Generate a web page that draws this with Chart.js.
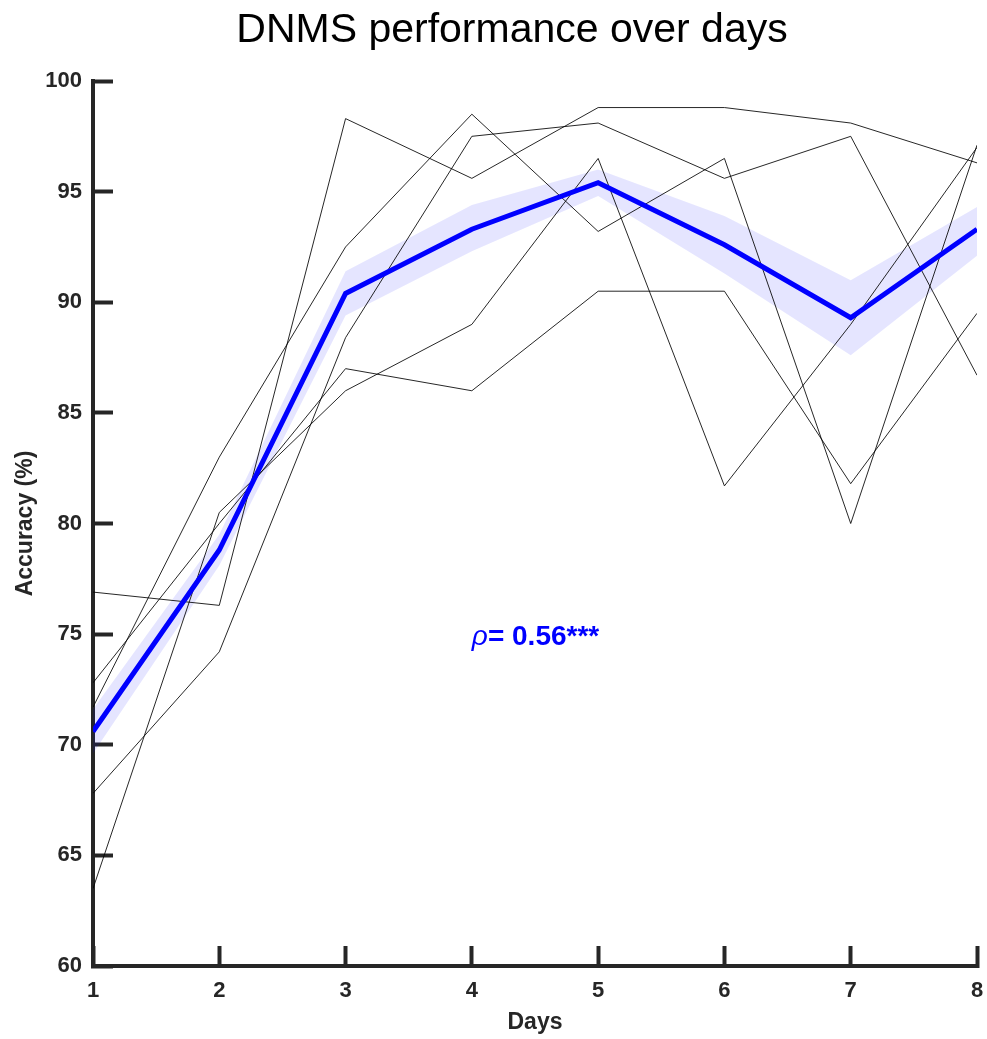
<!DOCTYPE html>
<html>
<head>
<meta charset="utf-8">
<title>DNMS performance over days</title>
<script src="https://cdn.jsdelivr.net/npm/chart.js@4.4.1/dist/chart.umd.min.js"></script>
<style>
    html, body { margin: 0; padding: 0; background: #fff; }
    #wrap { width: 987px; height: 1039px; }
</style>
</head>
<body>
<div id="wrap"><canvas id="dnmsChart" width="987" height="1039"></canvas></div>
<script>
// Values (accuracy in %)
const days = [1, 2, 3, 4, 5, 6, 7, 8];
const subject1 = [76.9, 76.3, 98.3, 95.6, 98.8, 98.8, 98.1, 96.3];
const subject2 = [71.7, 83.0, 92.5, 98.5, 93.2, 96.5, 80.0, 97.1];
const subject3 = [72.8, 80.0, 87.0, 86.0, 90.5, 90.5, 81.8, 89.5];
const subject4 = [63.5, 80.5, 86.0, 89.0, 96.5, 81.7, 89.0, 97.0];
const subject5 = [67.8, 74.2, 88.4, 97.5, 98.1, 95.6, 97.5, 86.7];
const meanAccuracy = [70.6, 78.8, 90.4, 93.3, 95.4, 92.6, 89.3, 93.3];
const bandUpper = [71.6, 79.5, 91.4, 94.4, 96.0, 93.9, 91.0, 94.3];
const bandLower = [69.6, 78.1, 89.4, 92.3, 94.8, 91.3, 87.6, 92.1];
const yTicks = [60, 65, 70, 75, 80, 85, 90, 95, 100];

const titleText = 'DNMS performance over days';
const corrLabel = '= 0.56***';

const axisColor = '#262626';
const fontFamily = '"Liberation Sans", Arial, Helvetica, sans-serif';

const toPoints = (arr) => days.map((d, i) => ({ x: d, y: arr[i] }));

const subjects = [subject1, subject2, subject3, subject4, subject5];

// Title and correlation text
const overlayText = {
    id: 'overlayText',
    afterDraw(chart) {
        const { ctx, scales: { x, y } } = chart;
        ctx.save();
        ctx.fillStyle = '#000';
        ctx.font = '41px ' + fontFamily;
        ctx.textAlign = 'center';
        ctx.textBaseline = 'alphabetic';
        ctx.fillText(titleText, 512, 42);

        const px = x.getPixelForValue(4.0);
        const py = y.getPixelForValue(74.5);
        ctx.fillStyle = '#0000FF';
        ctx.textAlign = 'left';
        ctx.font = 'italic 28px ' + fontFamily;
        ctx.fillText('ρ', px, py);
        const rhoW = ctx.measureText('ρ').width;
        ctx.font = 'bold 28px ' + fontFamily;
        ctx.fillText(corrLabel, px + rhoW, py);
        ctx.restore();
    }
};

const datasets = [
    {
        label: 'Mean',
        data: toPoints(meanAccuracy),
        borderColor: '#0000FF',
        borderWidth: 5,
        pointRadius: 0,
        tension: 0,
        fill: false
    },
    ...subjects.map((s, i) => ({
        label: 'Subject ' + (i + 1),
        data: toPoints(s),
        borderColor: 'rgba(0, 0, 0, 0.85)',
        borderWidth: 1,
        pointRadius: 0,
        tension: 0,
        fill: false
    })),
    {
        label: 'Lower',
        data: toPoints(bandLower),
        borderColor: 'rgba(0, 0, 0, 0)',
        borderWidth: 0,
        pointRadius: 0,
        tension: 0,
        fill: false
    },
    {
        label: 'Upper',
        data: toPoints(bandUpper),
        borderColor: 'rgba(0, 0, 0, 0)',
        borderWidth: 0,
        backgroundColor: 'rgba(0, 0, 255, 0.1)',
        pointRadius: 0,
        tension: 0,
        fill: '-1'
    }
];

new Chart(document.getElementById('dnmsChart'), {
    type: 'line',
    data: { datasets },
    options: {
        responsive: false,
        animation: false,
        devicePixelRatio: 1,
        layout: {
            padding: { top: 81, right: 10, bottom: 0, left: 0 }
        },
        plugins: {
            legend: { display: false },
            tooltip: { enabled: false }
        },
        scales: {
            x: {
                type: 'linear',
                min: 1,
                max: 8,
                afterBuildTicks: (scale) => {
                    scale.ticks = days.map(v => ({ value: v }));
                },
                afterFit: (scale) => {
                    scale.height = 73;
                    scale.paddingLeft = 0;
                    scale.paddingRight = 0;
                },
                border: { display: true, color: axisColor, width: 4 },
                grid: {
                    display: true,
                    drawOnChartArea: false,
                    drawTicks: true,
                    tickLength: -20,
                    tickWidth: 4,
                    tickColor: axisColor
                },
                ticks: {
                    color: axisColor,
                    padding: 32,
                    maxRotation: 0,
                    font: { family: fontFamily, size: 22, weight: 'bold' }
                },
                title: {
                    display: true,
                    text: 'Days',
                    color: axisColor,
                    padding: { top: 0, bottom: 3 },
                    font: { family: fontFamily, size: 23, weight: 'bold' }
                }
            },
            y: {
                type: 'linear',
                min: 60,
                max: 100,
                afterBuildTicks: (scale) => {
                    scale.ticks = yTicks.map(v => ({ value: v }));
                },
                afterFit: (scale) => {
                    scale.width = 93;
                    scale.paddingTop = 0;
                    scale.paddingBottom = 0;
                },
                border: { display: true, color: axisColor, width: 4 },
                grid: {
                    display: true,
                    drawOnChartArea: false,
                    drawTicks: true,
                    tickLength: -20,
                    tickWidth: 4,
                    tickColor: axisColor
                },
                ticks: {
                    color: axisColor,
                    padding: 31,
                    font: { family: fontFamily, size: 22, weight: 'bold' }
                },
                title: {
                    display: true,
                    text: 'Accuracy (%)',
                    color: axisColor,
                    padding: { top: 12, bottom: 0 },
                    font: { family: fontFamily, size: 23, weight: 'bold' }
                }
            }
        }
    },
    plugins: [overlayText]
});
</script>
</body>
</html>
